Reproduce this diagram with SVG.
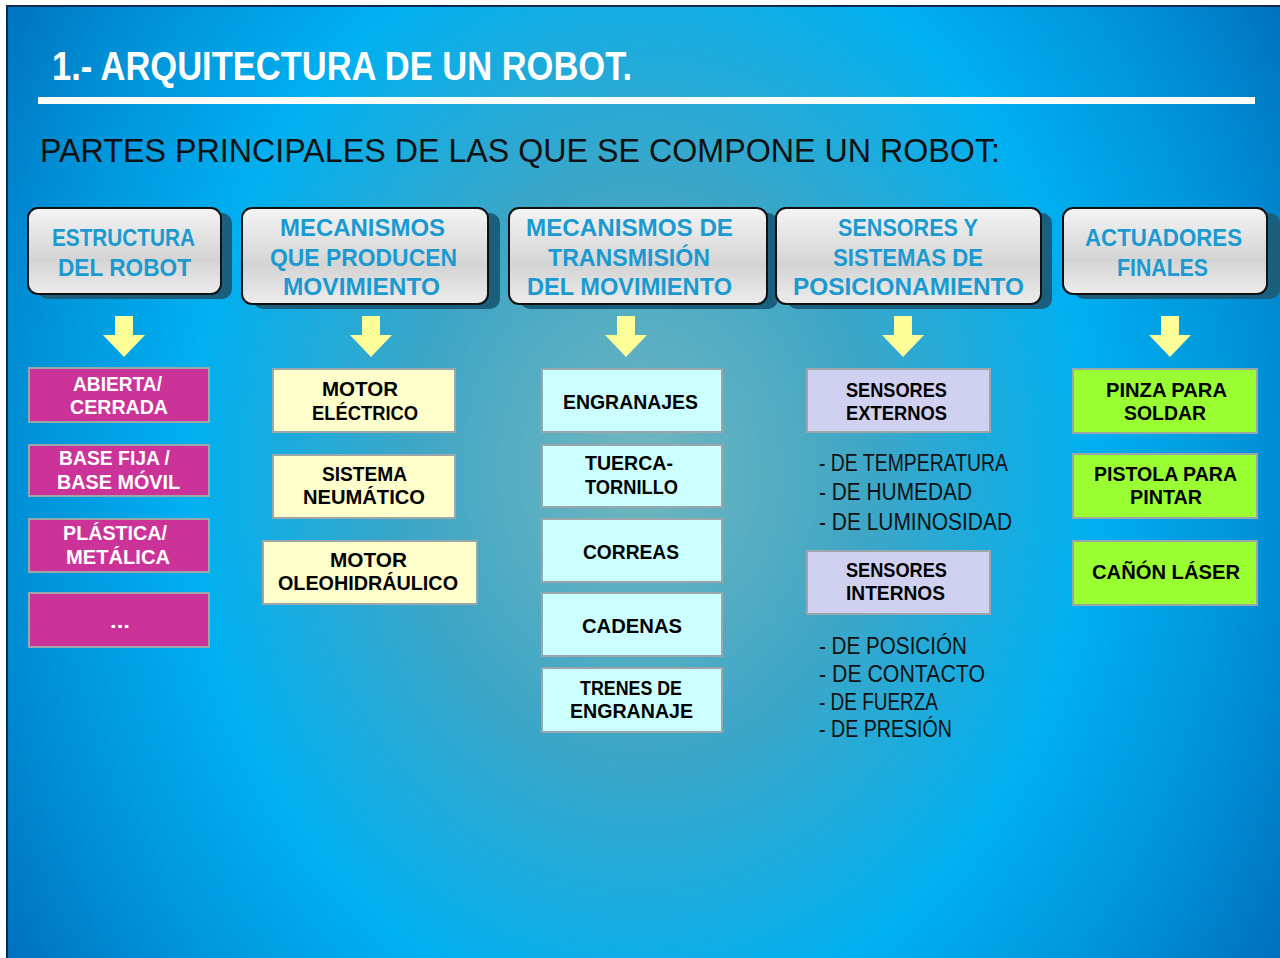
<svg xmlns="http://www.w3.org/2000/svg" xmlns:xlink="http://www.w3.org/1999/xlink" width="1280" height="958" viewBox="0 0 1280 958">
<defs>
<radialGradient id="bg" gradientUnits="userSpaceOnUse" cx="0" cy="0" r="1" gradientTransform="translate(640,470) scale(820,1000)">
<stop offset="0" stop-color="#72b6be"/>
<stop offset="0.28" stop-color="#3ea6c6"/>
<stop offset="0.55" stop-color="#00b0f0"/>
<stop offset="0.75" stop-color="#0092d8"/>
<stop offset="1" stop-color="#005fae"/>
</radialGradient>
<linearGradient id="hdr" x1="0" y1="0" x2="0" y2="1">
<stop offset="0" stop-color="#f4f4f4"/>
<stop offset="0.6" stop-color="#d4d4d4"/>
<stop offset="1" stop-color="#ececec"/>
</linearGradient>
<path id="arrow" d="M-9,316 H9 V335 H21 L0,357 L-21,335 H-9 Z"/>
<style>
.hbox{fill:url(#hdr);stroke:#111;stroke-width:2}
.hsh{fill:#1b5f7e}
.ht{font-family:"Liberation Sans",Arial,sans-serif;font-weight:bold;font-size:24px;fill:#1a9ad0;text-anchor:middle}
.box{stroke:#9aa6aa;stroke-width:2}
.mag{fill:#cc3399}
.yel{fill:#ffffcc}
.cya{fill:#ccffff}
.lav{fill:#d0d0f0}
.grn{fill:#99ff33}
.bt{font-family:"Liberation Sans",Arial,sans-serif;font-weight:bold;font-size:20px;fill:#000;text-anchor:middle}
.wt{fill:#fff}
.lt{font-family:"Liberation Sans",Arial,sans-serif;font-size:23px;fill:#111}
.arr{fill:#ffff99}
</style>
</defs>
<rect x="0" y="0" width="1280" height="958" fill="#ffffff"/>
<rect x="6" y="5" width="1274" height="953" fill="#0a2a50"/>
<rect x="8" y="7" width="1272" height="951" fill="url(#bg)"/>

<g id="title">
<text x="52" y="80" font-family="Liberation Sans, Arial, sans-serif" font-weight="bold" font-size="40" fill="#ffffff" textLength="580" lengthAdjust="spacingAndGlyphs">1.- ARQUITECTURA DE UN ROBOT.</text>
<rect x="38" y="97" width="1217" height="7" fill="#ffffff"/>
<text x="40" y="162" font-family="Liberation Sans, Arial, sans-serif" font-size="33" fill="#111111" textLength="960" lengthAdjust="spacingAndGlyphs">PARTES PRINCIPALES DE LAS QUE SE COMPONE UN ROBOT:</text>
</g>

<g id="h1">
<rect class="hsh" x="38" y="213" width="194" height="86" rx="10"/>
<rect class="hbox" x="28" y="208" width="193" height="86" rx="10"/>
<text class="ht" x="123.5" y="246" textLength="143" lengthAdjust="spacingAndGlyphs">ESTRUCTURA</text>
<text class="ht" x="124.5" y="276" textLength="133" lengthAdjust="spacingAndGlyphs">DEL ROBOT</text>
</g>
<g id="h2">
<rect class="hsh" x="253" y="213" width="247" height="96" rx="10"/>
<rect class="hbox" x="242" y="208" width="246" height="96" rx="10"/>
<text class="ht" x="362.5" y="236" textLength="165" lengthAdjust="spacingAndGlyphs">MECANISMOS</text>
<text class="ht" x="363.5" y="266" textLength="187" lengthAdjust="spacingAndGlyphs">QUE PRODUCEN</text>
<text class="ht" x="361.5" y="295" textLength="157" lengthAdjust="spacingAndGlyphs">MOVIMIENTO</text>
</g>
<g id="h3">
<rect class="hsh" x="520" y="213" width="258" height="96" rx="10"/>
<rect class="hbox" x="509" y="208" width="258" height="96" rx="10"/>
<text class="ht" x="629.5" y="236" textLength="207" lengthAdjust="spacingAndGlyphs">MECANISMOS DE</text>
<text class="ht" x="629" y="266" textLength="162" lengthAdjust="spacingAndGlyphs">TRANSMISIÓN</text>
<text class="ht" x="629.5" y="295" textLength="205" lengthAdjust="spacingAndGlyphs">DEL MOVIMIENTO</text>
</g>
<g id="h4">
<rect class="hsh" x="787" y="213" width="265" height="96" rx="10"/>
<rect class="hbox" x="776" y="208" width="265" height="96" rx="10"/>
<text class="ht" x="908" y="236" textLength="140" lengthAdjust="spacingAndGlyphs">SENSORES Y</text>
<text class="ht" x="908" y="266" textLength="150" lengthAdjust="spacingAndGlyphs">SISTEMAS DE</text>
<text class="ht" x="908.5" y="295" textLength="231" lengthAdjust="spacingAndGlyphs">POSICIONAMIENTO</text>
</g>
<g id="h5">
<rect class="hsh" x="1074" y="213" width="206" height="86" rx="10"/>
<rect class="hbox" x="1063" y="208" width="204" height="86" rx="10"/>
<text class="ht" x="1163.5" y="246" textLength="157" lengthAdjust="spacingAndGlyphs">ACTUADORES</text>
<text class="ht" x="1162.5" y="276" textLength="91" lengthAdjust="spacingAndGlyphs">FINALES</text>
</g>

<g id="connectors">
<use xlink:href="#arrow" class="arr" x="124" y="0"/>
<use xlink:href="#arrow" class="arr" x="371" y="0"/>
<use xlink:href="#arrow" class="arr" x="626" y="0"/>
<use xlink:href="#arrow" class="arr" x="903" y="0"/>
<use xlink:href="#arrow" class="arr" x="1170" y="0"/>
</g>

<g id="m1"><rect class="box mag" x="29" y="368" width="180" height="54"/>
<text class="bt wt" x="117.5" y="391" textLength="89" lengthAdjust="spacingAndGlyphs">ABIERTA/</text>
<text class="bt wt" x="119" y="414" textLength="98" lengthAdjust="spacingAndGlyphs">CERRADA</text></g>
<g id="m2"><rect class="box mag" x="29" y="445" width="180" height="51"/>
<text class="bt wt" x="114.5" y="465" textLength="111" lengthAdjust="spacingAndGlyphs">BASE FIJA /</text>
<text class="bt wt" x="118.5" y="489" textLength="123" lengthAdjust="spacingAndGlyphs">BASE MÓVIL</text></g>
<g id="m3"><rect class="box mag" x="29" y="519" width="180" height="53"/>
<text class="bt wt" x="115" y="540" textLength="104" lengthAdjust="spacingAndGlyphs">PLÁSTICA/</text>
<text class="bt wt" x="118" y="564" textLength="104" lengthAdjust="spacingAndGlyphs">METÁLICA</text></g>
<g id="m4"><rect class="box mag" x="29" y="593" width="180" height="54"/>
<text class="bt wt" x="120" y="628" textLength="20" lengthAdjust="spacingAndGlyphs">...</text></g>

<g id="y1"><rect class="box yel" x="273" y="369" width="182" height="63"/>
<text class="bt" x="360" y="396" textLength="76" lengthAdjust="spacingAndGlyphs">MOTOR</text>
<text class="bt" x="365" y="420" textLength="106" lengthAdjust="spacingAndGlyphs">ELÉCTRICO</text></g>
<g id="y2"><rect class="box yel" x="273" y="455" width="182" height="63"/>
<text class="bt" x="364.5" y="481" textLength="85" lengthAdjust="spacingAndGlyphs">SISTEMA</text>
<text class="bt" x="364" y="504" textLength="122" lengthAdjust="spacingAndGlyphs">NEUMÁTICO</text></g>
<g id="y3"><rect class="box yel" x="263" y="541" width="214" height="63"/>
<text class="bt" x="368.5" y="567" textLength="77" lengthAdjust="spacingAndGlyphs">MOTOR</text>
<text class="bt" x="368" y="590" textLength="180" lengthAdjust="spacingAndGlyphs">OLEOHIDRÁULICO</text></g>

<g id="c1"><rect class="box cya" x="542" y="369" width="180" height="63"/>
<text class="bt" x="630.5" y="409" textLength="135" lengthAdjust="spacingAndGlyphs">ENGRANAJES</text></g>
<g id="c2"><rect class="box cya" x="542" y="445" width="180" height="62"/>
<text class="bt" x="629" y="470" textLength="88" lengthAdjust="spacingAndGlyphs">TUERCA-</text>
<text class="bt" x="631.5" y="494" textLength="93" lengthAdjust="spacingAndGlyphs">TORNILLO</text></g>
<g id="c3"><rect class="box cya" x="542" y="519" width="180" height="63"/>
<text class="bt" x="631" y="559" textLength="96" lengthAdjust="spacingAndGlyphs">CORREAS</text></g>
<g id="c4"><rect class="box cya" x="542" y="593" width="180" height="63"/>
<text class="bt" x="632" y="633" textLength="100" lengthAdjust="spacingAndGlyphs">CADENAS</text></g>
<g id="c5"><rect class="box cya" x="542" y="668" width="180" height="64"/>
<text class="bt" x="631" y="695" textLength="102" lengthAdjust="spacingAndGlyphs">TRENES DE</text>
<text class="bt" x="631.5" y="718" textLength="123" lengthAdjust="spacingAndGlyphs">ENGRANAJE</text></g>

<g id="s1"><rect class="box lav" x="807" y="369" width="183" height="63"/>
<text class="bt" x="896.5" y="397" textLength="101" lengthAdjust="spacingAndGlyphs">SENSORES</text>
<text class="bt" x="896.5" y="420" textLength="101" lengthAdjust="spacingAndGlyphs">EXTERNOS</text></g>
<g id="s1list">
<text class="lt" x="819" y="471" textLength="189" lengthAdjust="spacingAndGlyphs">- DE TEMPERATURA</text>
<text class="lt" x="819" y="500" textLength="153" lengthAdjust="spacingAndGlyphs">- DE HUMEDAD</text>
<text class="lt" x="819" y="530" textLength="193" lengthAdjust="spacingAndGlyphs">- DE LUMINOSIDAD</text>
</g>
<g id="s2"><rect class="box lav" x="807" y="551" width="183" height="63"/>
<text class="bt" x="896.5" y="577" textLength="101" lengthAdjust="spacingAndGlyphs">SENSORES</text>
<text class="bt" x="895.5" y="600" textLength="99" lengthAdjust="spacingAndGlyphs">INTERNOS</text></g>
<g id="s2list">
<text class="lt" x="819" y="654" textLength="148" lengthAdjust="spacingAndGlyphs">- DE POSICIÓN</text>
<text class="lt" x="819" y="682" textLength="166" lengthAdjust="spacingAndGlyphs">- DE CONTACTO</text>
<text class="lt" x="819" y="710" textLength="119" lengthAdjust="spacingAndGlyphs">- DE FUERZA</text>
<text class="lt" x="819" y="737" textLength="133" lengthAdjust="spacingAndGlyphs">- DE PRESIÓN</text>
</g>

<g id="g1"><rect class="box grn" x="1073" y="369" width="184" height="64"/>
<text class="bt" x="1166.5" y="397" textLength="121" lengthAdjust="spacingAndGlyphs">PINZA PARA</text>
<text class="bt" x="1165" y="420" textLength="82" lengthAdjust="spacingAndGlyphs">SOLDAR</text></g>
<g id="g2"><rect class="box grn" x="1073" y="454" width="184" height="64"/>
<text class="bt" x="1165.5" y="481" textLength="143" lengthAdjust="spacingAndGlyphs">PISTOLA PARA</text>
<text class="bt" x="1166" y="504" textLength="72" lengthAdjust="spacingAndGlyphs">PINTAR</text></g>
<g id="g3"><rect class="box grn" x="1073" y="541" width="184" height="64"/>
<text class="bt" x="1166" y="579" textLength="148" lengthAdjust="spacingAndGlyphs">CAÑÓN LÁSER</text></g>
</svg>
